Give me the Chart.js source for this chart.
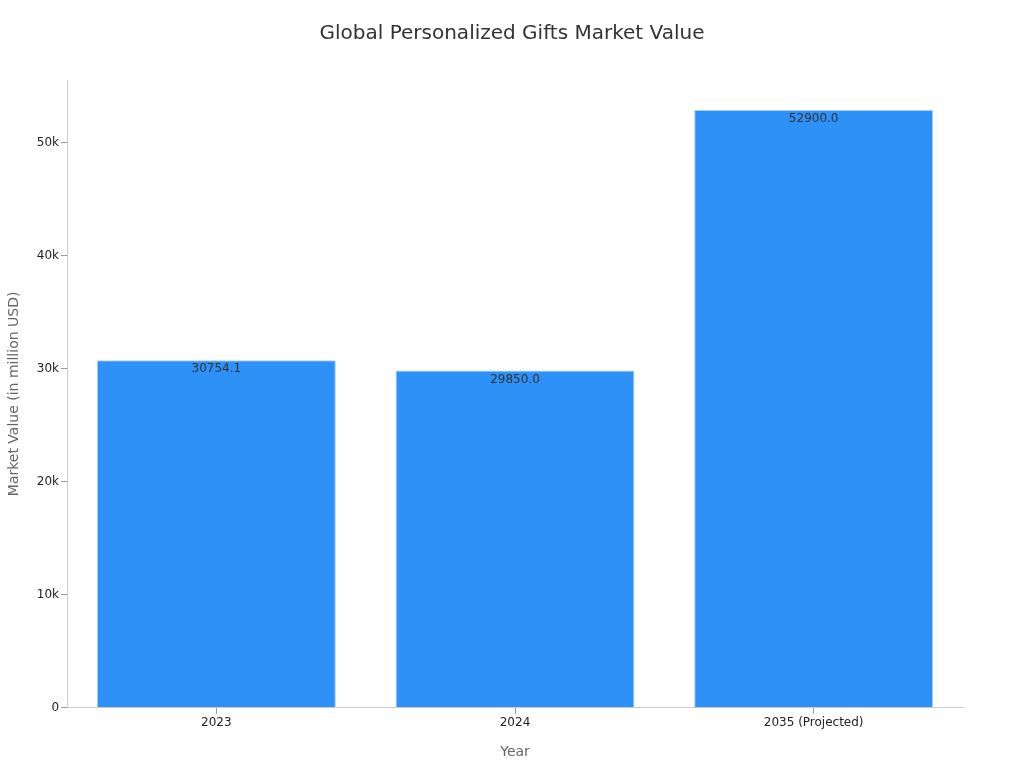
<!DOCTYPE html>
<html><head><meta charset="utf-8">
<script src="https://cdn.jsdelivr.net/npm/chart.js@4"></script>
<style>html,body{margin:0;background:#fff}#w{width:1024px;height:768px}</style>
</head><body><div id="w"><canvas id="c"></canvas></div>
<script>
const categories = ["2023", "2024", "2035 (Projected)"];
const marketValues = [30754.1, 29850.0, 52900.0];
const valueLabels = ["30754.1", "29850.0", "52900.0"];
const chartTitle = 'Global Personalized Gifts Market Value';

const labelPlugin = {
  id: 'vl',
  afterDatasetsDraw(chart) {
    const ctx = chart.ctx;
    chart.getDatasetMeta(0).data.forEach((bar, i) => {
      ctx.save();
      ctx.fillStyle = '#333';
      ctx.font = '12px "DejaVu Sans"';
      ctx.textAlign = 'center';
      ctx.textBaseline = 'top';
      ctx.fillText(valueLabels[i], bar.x, bar.y + 3);
      ctx.restore();
    });
    ctx.save();
    ctx.fillStyle = '#333';
    ctx.font = '20px "DejaVu Sans"';
    ctx.textAlign = 'center';
    ctx.textBaseline = 'middle';
    ctx.fillText(chartTitle, chart.width / 2, 34);
    ctx.restore();
  }
};

new Chart(document.getElementById('c'), {
  type: 'bar',
  data: { labels: categories, datasets: [{ data: marketValues, backgroundColor: '#2e91f8', borderColor: '#a9cdf5', borderWidth: 1, barPercentage: 0.8, categoryPercentage: 1 }] },
  options: {
    responsive: true, maintainAspectRatio: false, animation: false,
    layout: { padding: { left: 2, right: 61, top: 80, bottom: 3 } },
    plugins: { legend: { display: false }, tooltip: { enabled: false } },
    scales: {
      x: { grid: { offset: false, drawOnChartArea: false, drawTicks: true, tickLength: 6, color: '#999' }, border: { color: '#ccc' },
        ticks: { color: '#222', font: { family: 'DejaVu Sans', size: 12 }, padding: 2 },
        title: { display: true, text: 'Year', color: '#666', font: { family: 'DejaVu Sans', size: 14 }, padding: { top: 12 } } },
      y: { min: 0, max: 55545, grid: { drawOnChartArea: false, drawTicks: true, tickLength: 6, color: '#999' }, border: { color: '#ccc' },
        afterBuildTicks(s) { s.ticks = [0, 10000, 20000, 30000, 40000, 50000].map(v => ({ value: v })); },
        ticks: { color: '#222', font: { family: 'DejaVu Sans', size: 12 }, padding: 2, callback: v => v === 0 ? '0' : (v / 1000) + 'k' },
        title: { display: true, text: 'Market Value (in million USD)', color: '#666', font: { family: 'DejaVu Sans', size: 14 }, padding: { bottom: 12 } } }
    }
  },
  plugins: [labelPlugin]
});
</script></body></html>
